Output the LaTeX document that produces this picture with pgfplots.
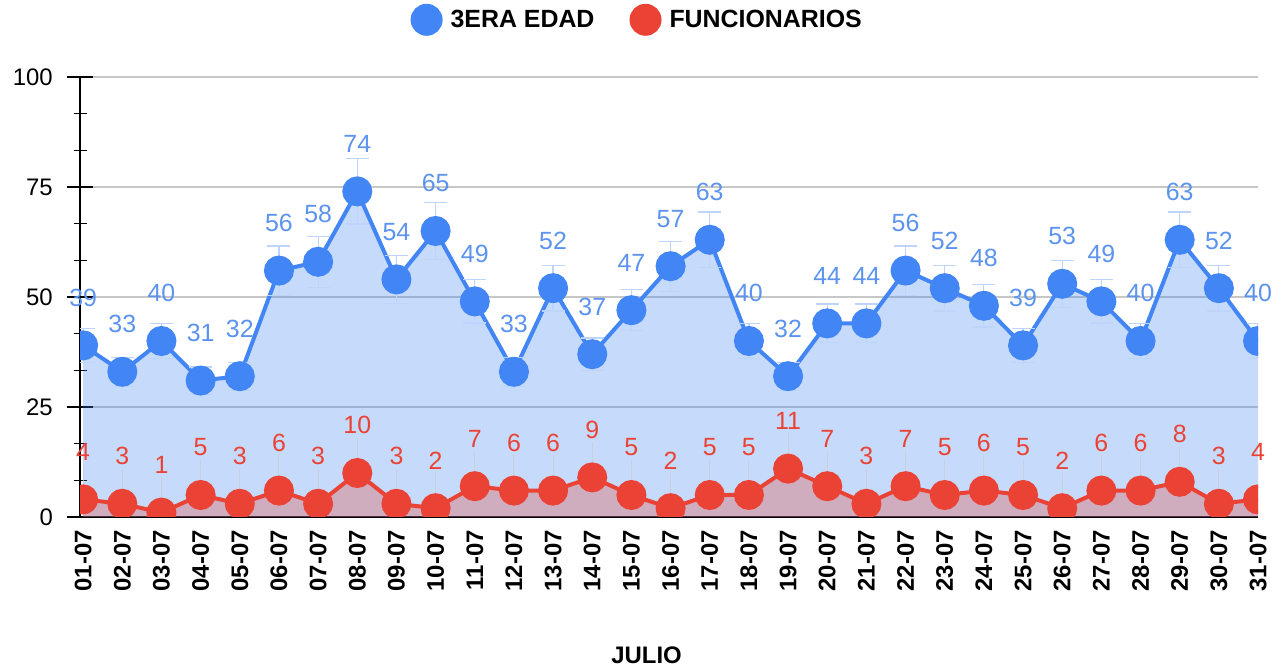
\documentclass[border=0pt]{standalone}
\usepackage{fontspec}
\setmainfont{Liberation Sans}
\usepackage{pgfplots}
\usepackage{pgfplotstable}
\pgfplotsset{compat=1.18}
\definecolor{cblue}{HTML}{4285F4}
\definecolor{cred}{HTML}{EA4335}
\definecolor{lblue}{HTML}{5B93EE}
\newcommand\fs{\fontsize{24}{28}\selectfont}
\newcommand\fsl{\fontsize{25}{28}\selectfont}
\pgfplotstableread{
x b r
1 39 4
2 33 3
3 40 1
4 31 5
5 32 3
6 56 6
7 58 3
8 74 10
9 54 3
10 65 2
11 49 7
12 33 6
13 52 6
14 37 9
15 47 5
16 57 2
17 63 5
18 40 5
19 32 11
20 44 7
21 44 3
22 56 7
23 52 5
24 48 6
25 39 5
26 53 2
27 49 6
28 40 6
29 63 8
30 52 3
31 40 4
}\data
\begin{document}
\begin{tikzpicture}[x=1bp,y=1bp]
\path[use as bounding box] (0,0) rectangle (1275,668);
\begin{axis}[
  at={(80bp,151bp)}, anchor=south west,
  scale only axis, width=1178bp, height=440bp,
  xmin=0.92, xmax=31, ymin=0, ymax=100,
  axis lines*=left,
  axis line style={black, line width=1.5bp},
  xtick={1,...,31},
  xticklabels={01-07,02-07,03-07,04-07,05-07,06-07,07-07,08-07,09-07,10-07,11-07,12-07,13-07,14-07,15-07,16-07,17-07,18-07,19-07,20-07,21-07,22-07,23-07,24-07,25-07,26-07,27-07,28-07,29-07,30-07,31-07},
  x tick label style={rotate=90, anchor=east, font=\bfseries\fs, inner sep=0pt, yshift=0bp},
  xtick style={draw=none},
  ytick={0,25,50,75,100},
  minor y tick num=2,
  ymajorgrids,
  grid style={black!22, line width=1.2bp},
  tick align=center,
  major tick length=26bp, minor tick length=13bp,
  ytick style={black, line width=1.5bp},
  y tick label style={font=\fs, inner sep=0pt, xshift=-14bp},
  /pgf/number format/assume math mode=true,
  xlabel={JULIO},
  xlabel style={font=\bfseries\fs, at={(axis description cs:0.481,-0.314)}, anchor=center},
  legend style={at={(axis description cs:0.473,1.13)}, anchor=center, draw=none, fill=none,
    legend columns=2, font=\bfseries\fsl,
    /tikz/every odd column/.append style={column sep=6bp},
    /tikz/every even column/.append style={column sep=33bp}},
  legend image code/.code={\fill (14bp,0bp) circle (14bp);},
]
\addplot[draw=none, fill=cblue, fill opacity=0.3, forget plot] table[x=x,y=b]{\data} \closedcycle;
\addplot[draw=none, fill=cred, fill opacity=0.3, forget plot] table[x=x,y=r]{\data} \closedcycle;
\addplot[color=cblue, line width=4bp, mark=*, mark size=13bp, clip marker paths=true,
  error bars/.cd, y dir=both, y fixed relative=0.1,
  error bar style={line width=1.2bp, cblue!35},
  error mark options={rotate=90, mark size=11.5bp, line width=1.2bp, cblue!35}]
  table[x=x,y=b]{\data};
\addlegendentry{3ERA EDAD}
\addplot[color=cred, line width=4bp, mark=*, mark size=13bp, clip marker paths=true,
  error bars/.cd, y dir=plus, y fixed=8, error mark=none,
  error bar style={line width=1bp, black!20, opacity=0.7}]
  table[x=x,y=r]{\data};
\addlegendentry{FUNCIONARIOS}
\addplot[draw=none, nodes near coords, point meta=explicit symbolic,
  every node near coord/.append style={font=\fsl, color=lblue, anchor=base, inner sep=0pt, yshift=39bp}]
  table[x=x,y=b,meta=b]{\data};
\addplot[draw=none, nodes near coords, point meta=explicit symbolic,
  every node near coord/.append style={font=\fsl, color=cred, anchor=base, inner sep=0pt, yshift=39bp}]
  table[x=x,y=r,meta=r]{\data};
\end{axis}
\end{tikzpicture}
\end{document}
